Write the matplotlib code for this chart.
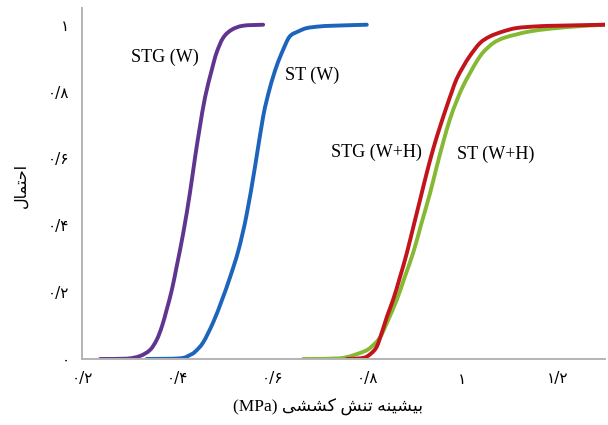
#!/usr/bin/env python
# -*- coding: utf-8 -*-

import numpy as np
import matplotlib
matplotlib.use("Agg")
import matplotlib.pyplot as plt
from matplotlib.path import Path
from matplotlib.patches import PathPatch
from matplotlib.ticker import FuncFormatter

# cumulative probability curves (stress in MPa, probability)
stg_w_x = [0.238, 0.294, 0.322, 0.343, 0.357, 0.368, 0.378, 0.389, 0.399, 0.413, 0.427,
           0.438, 0.448, 0.459, 0.473, 0.483, 0.497, 0.515, 0.539, 0.581]
stg_w_y = [0.000, 0.001, 0.009, 0.027, 0.057, 0.097, 0.147, 0.207, 0.276, 0.377, 0.497,
           0.605, 0.695, 0.784, 0.865, 0.916, 0.961, 0.985, 0.997, 1.000]

st_w_x = [0.336, 0.406, 0.427, 0.438, 0.455, 0.476, 0.494, 0.511, 0.529, 0.546, 0.564,
          0.581, 0.595, 0.609, 0.623, 0.637, 0.655, 0.673, 0.701, 0.728, 0.799]
st_w_y = [0.000, 0.002, 0.012, 0.022, 0.050, 0.110, 0.175, 0.243, 0.325, 0.430, 0.576,
          0.725, 0.810, 0.875, 0.925, 0.965, 0.980, 0.990, 0.995, 0.997, 1.000]

stg_wh_x = [0.757, 0.785, 0.800, 0.818, 0.829, 0.841, 0.855, 0.869, 0.883, 0.897, 0.911,
            0.925, 0.939, 0.953, 0.967, 0.978, 0.988, 1.002, 1.016, 1.037, 1.058, 1.086,
            1.114, 1.156, 1.198, 1.300]
stg_wh_y = [0.000, 0.002, 0.008, 0.032, 0.072, 0.125, 0.180, 0.246, 0.316, 0.396, 0.476,
            0.556, 0.630, 0.695, 0.755, 0.800, 0.838, 0.875, 0.907, 0.945, 0.965, 0.980,
            0.990, 0.995, 0.997, 1.000]

st_wh_x = [0.665, 0.743, 0.792, 0.809, 0.827, 0.844, 0.862, 0.879, 0.897, 0.914, 0.932,
           0.946, 0.960, 0.974, 0.988, 1.002, 1.016, 1.030, 1.044, 1.065, 1.086, 1.114,
           1.142, 1.184, 1.240, 1.300]
st_wh_y = [0.000, 0.002, 0.022, 0.037, 0.065, 0.117, 0.177, 0.246, 0.320, 0.406, 0.496,
           0.575, 0.650, 0.718, 0.772, 0.818, 0.855, 0.890, 0.918, 0.945, 0.960, 0.971,
           0.980, 0.988, 0.995, 1.000]

series_names = ["STG (W)", "ST (W)", "STG (W+H)", "ST (W+H)"]
series_colors = ["#5f3590", "#1d64bd", "#c2151b", "#85b833"]

x_ticks = [0.2, 0.4, 0.6, 0.8, 1.0, 1.2]
y_ticks = [0, 0.2, 0.4, 0.6, 0.8, 1.0]

x_title_words = ["بیشینه", "تنش", "کششی"]
x_title_unit = "(MPa)"
y_title_words = ["احتمال"]

# contextual forms: isolated, final, initial, medial
FORMS = {
    "ا": ("\uFE8D", "\uFE8E", None, None),
    "ب": ("\uFE8F", "\uFE90", "\uFE91", "\uFE92"),
    "ت": ("\uFE95", "\uFE96", "\uFE97", "\uFE98"),
    "ح": ("\uFEA1", "\uFEA2", "\uFEA3", "\uFEA4"),
    "ش": ("\uFEB5", "\uFEB6", "\uFEB7", "\uFEB8"),
    "ل": ("\uFEDD", "\uFEDE", "\uFEDF", "\uFEE0"),
    "م": ("\uFEE1", "\uFEE2", "\uFEE3", "\uFEE4"),
    "ن": ("\uFEE5", "\uFEE6", "\uFEE7", "\uFEE8"),
    "ه": ("\uFEE9", "\uFEEA", "\uFEEB", "\uFEEC"),
    "ک": ("\uFB8E", "\uFB8F", "\uFB90", "\uFB91"),
    "ی": ("\uFBFC", "\uFBFD", "\uFBFE", "\uFBFF"),
}


def shape_word(w):
    out = []
    for i, ch in enumerate(w):
        iso, fin, ini, med = FORMS[ch]
        joins_prev = i > 0 and FORMS[w[i - 1]][2] is not None
        joins_next = i + 1 < len(w) and ini is not None
        if joins_prev and joins_next:
            out.append(med)
        elif joins_prev:
            out.append(fin)
        elif joins_next:
            out.append(ini)
        else:
            out.append(iso)
    return "".join(reversed(out))


def rtl(words):
    return " ".join(shape_word(w) for w in reversed(words))


FA_DIGITS = str.maketrans("0123456789.", "۰۱۲۳۴۵۶۷۸۹/")


def fa_num(v, pos=None):
    return ("%g" % round(v, 3)).translate(FA_DIGITS)


def smooth_path(xs, ys):
    # smoothed line through the points (cubic bezier, no overshoot in y)
    p = np.column_stack([xs, ys])
    n = len(p)
    tang = np.zeros_like(p)
    tang[1:-1] = (p[2:] - p[:-2]) / 2.0
    tang[0] = p[1] - p[0]
    tang[-1] = p[-1] - p[-2]
    verts = [p[0]]
    codes = [Path.MOVETO]
    for i in range(n - 1):
        c1 = p[i] + tang[i] / 3.0
        c2 = p[i + 1] - tang[i + 1] / 3.0
        lo, hi = min(p[i][1], p[i + 1][1]), max(p[i][1], p[i + 1][1])
        c1[1] = np.clip(c1[1], lo, hi)
        c2[1] = np.clip(c2[1], lo, hi)
        verts += [c1, c2, p[i + 1]]
        codes += [Path.CURVE4] * 3
    return Path(verts, codes)


def main():
    fig = plt.figure(figsize=(6.08, 4.25), dpi=100)
    ax = fig.add_axes([82 / 608, 1 - 359 / 425, 523 / 608, 351 / 425])

    data = [(stg_w_x, stg_w_y), (st_w_x, st_w_y), (stg_wh_x, stg_wh_y), (st_wh_x, st_wh_y)]
    # green drawn under red
    for i in [3, 2, 0, 1]:
        xs, ys = data[i]
        ax.add_patch(PathPatch(smooth_path(xs, ys), facecolor="none",
                               edgecolor=series_colors[i], lw=2.8, capstyle="round"))

    serif = ["Liberation Serif", "DejaVu Serif"]
    ax.text(0.375, 0.901, series_names[0], fontsize=13, family=serif, ha="center", va="center")
    ax.text(0.684, 0.850, series_names[1], fontsize=13, family=serif, ha="center", va="center")
    ax.text(0.820, 0.617, series_names[2], fontsize=13, family=serif, ha="center", va="center")
    ax.text(1.071, 0.611, series_names[3], fontsize=13, family=serif, ha="center", va="center")

    ax.set_xlim(0.2, 1.3)
    ax.set_ylim(0, 1.05)
    ax.set_xticks(x_ticks)
    ax.set_yticks(y_ticks)
    ax.xaxis.set_major_formatter(FuncFormatter(fa_num))
    ax.yaxis.set_major_formatter(FuncFormatter(fa_num))
    ax.tick_params(length=0, labelsize=11)
    ax.tick_params(axis="x", pad=9)
    ax.tick_params(axis="y", pad=9)
    for lab in ax.get_xticklabels() + ax.get_yticklabels():
        lab.set_family("DejaVu Sans")

    for s in ["top", "right"]:
        ax.spines[s].set_visible(False)
    for s in ["left", "bottom"]:
        ax.spines[s].set_color("#b4b4b4")
        ax.spines[s].set_linewidth(1.4)

    fig.text(328 / 608, 1 - 407 / 425, x_title_unit + " " + rtl(x_title_words),
             fontsize=12.5, family=["Liberation Serif", "DejaVu Sans"], ha="center", va="center")
    fig.text(21 / 608, 1 - 185 / 425, rtl(y_title_words), rotation=90,
             fontsize=11.5, family="DejaVu Sans", ha="center", va="center")

    plt.savefig("out.png", dpi=100)


if __name__ == "__main__":
    main()
